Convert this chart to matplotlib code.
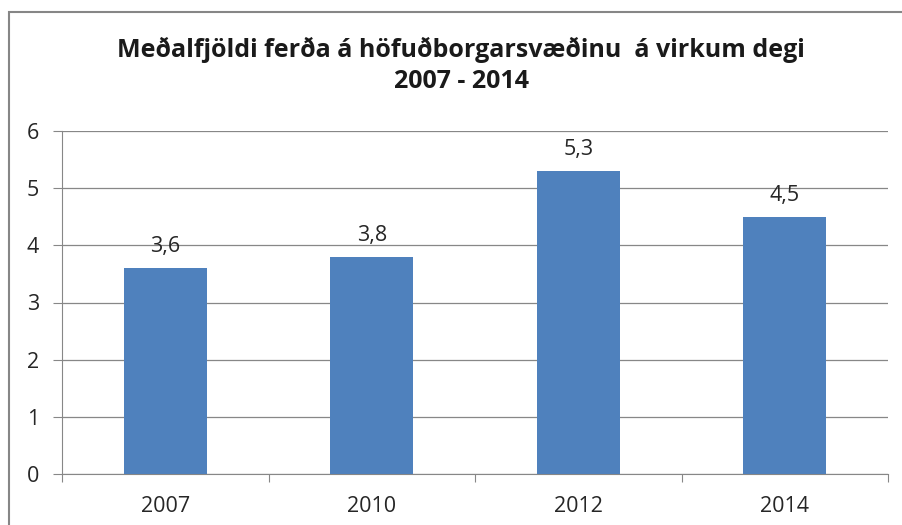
import matplotlib.pyplot as plt
from matplotlib.patches import Rectangle

years = ['2007', '2010', '2012', '2014']
values = [3.6, 3.8, 5.3, 4.5]
labels = ['3,6', '3,8', '5,3', '4,5']

plt.rcParams['font.family'] = ['Open Sans', 'DejaVu Sans']

fig = plt.figure(figsize=(9.02, 5.25), dpi=100)
fig.patches.append(Rectangle((8.5 / 902, -0.1), 1.2, 513 / 525 + 0.1, transform=fig.transFigure,
                             fill=False, edgecolor='#868686', linewidth=1.5))

ax = fig.add_axes([62 / 902, 51 / 525, 826 / 902, 343 / 525])
x = range(len(years))
ax.bar(x, values, width=0.4, color='#4F81BD', zorder=3)
for i, (v, lab) in enumerate(zip(values, labels)):
    ax.text(i, v + 0.28, lab, ha='center', va='baseline', fontsize=15.5, color='#262626')

ax.set_xlim(-0.5, 3.5)
ax.set_ylim(0, 6)
ax.set_yticks(range(7))
ax.grid(axis='y', color='#878787', linewidth=0.9, zorder=0)
ax.set_xticks([-0.5, 0.5, 1.5, 2.5, 3.5])
ax.set_xticklabels([])
ax.set_xticks(list(x), minor=True)
ax.set_xticklabels(years, minor=True)
ax.tick_params(axis='x', which='major', length=6, color='#878787', direction='out')
ax.tick_params(axis='x', which='minor', length=0, labelsize=15.5, labelcolor='#262626', pad=16)
ax.tick_params(axis='y', length=6.5, color='#878787', labelsize=15.5, labelcolor='#262626', pad=10)
for s in ['top', 'right']:
    ax.spines[s].set_visible(False)
for s in ['left', 'bottom']:
    ax.spines[s].set_color('#878787')

# title, two lines
fig.text(461 / 902, 1 - 57 / 525, 'Meðalfjöldi ferða á höfuðborgarsvæðinu  á virkum degi',
         ha='center', va='baseline', fontsize=18, fontweight='bold', color='#1a1a1a')
fig.text(461 / 902, 1 - 88 / 525, '2007 - 2014',
         ha='center', va='baseline', fontsize=18, fontweight='bold', color='#1a1a1a')

fig.savefig('out.png', dpi=100)
